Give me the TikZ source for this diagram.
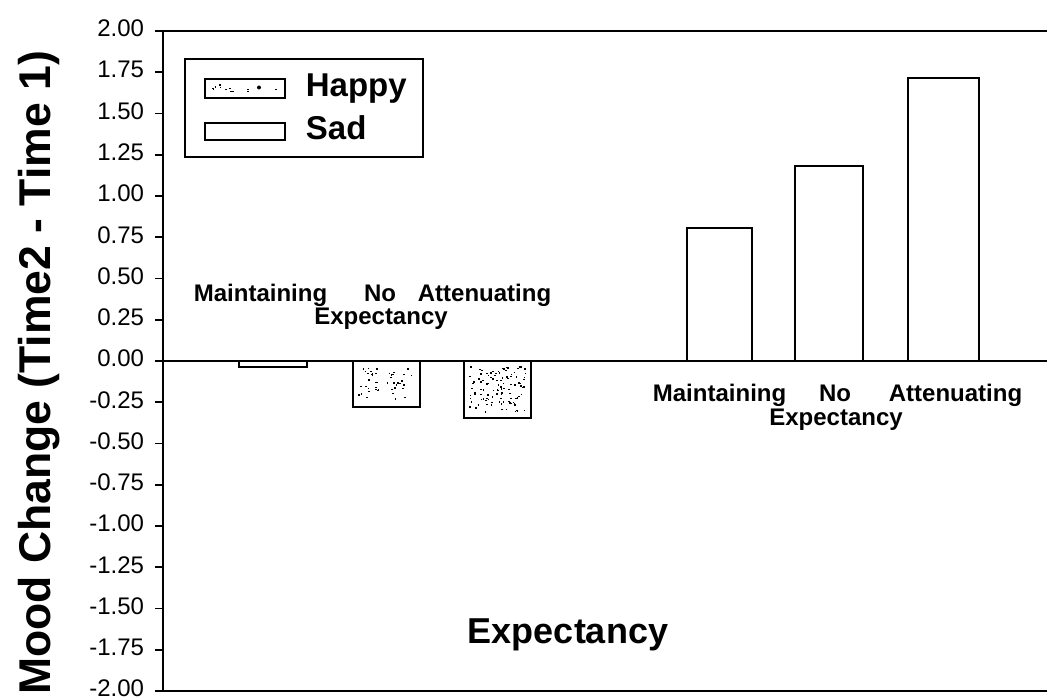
\documentclass[tikz,border=0pt]{standalone}
\usepackage{fontspec}
\setmainfont{Liberation Sans}
\begin{document}
\begin{tikzpicture}[x=1pt,y=-1pt,line width=1.8pt,
  ticklbl/.style={anchor=east,inner sep=0pt,font=\fontsize{24}{24}\selectfont},
  grplbl/.style={inner sep=0pt,font=\fontsize{24}{24}\selectfont\bfseries},
  leglbl/.style={anchor=base west,inner sep=0pt,font=\fontsize{33}{33}\selectfont\bfseries},
  barbox/.style={draw=black,fill=white,line width=1.8pt},
  speck/.style={fill=black}]
\useasboundingbox (0,0) rectangle (1047,700);
% frame lines
\draw (155,31) -- (1047,31);
\draw (163,31) -- (163,691);
\draw (155,691) -- (1047,691);
% ticks and labels
\foreach \v [count=\i from 0] in {2.00,1.75,1.50,1.25,1.00,0.75,0.50,0.25,0.00,-0.25,-0.50,-0.75,-1.00,-1.25,-1.50,-1.75,-2.00}{
  \draw (155,31+\i*41.25) -- (163,31+\i*41.25);
  \node[ticklbl] (t\i) at (145,28.5+\i*41.25) {\v};
}
% happy bars
\draw[barbox] (239,361) rectangle (307,367);
\draw[barbox] (353,361) rectangle (420,407);
\draw[barbox] (464,361) rectangle (531,418);
\pgfmathsetseed{11}
\foreach \k in {1,...,45}{
  \pgfmathsetmacro\px{358+rnd*56}\pgfmathsetmacro\py{366+rnd*34}
  \fill[speck] (\px,\py) rectangle ++(1.6,1.4);
}
\foreach \k in {1,...,110}{
  \pgfmathsetmacro\px{469+rnd*56}\pgfmathsetmacro\py{366+rnd*46}
  \fill[speck] (\px,\py) rectangle ++(1.6,1.4);
}
% sad bars
\draw[barbox] (687,361) rectangle (752,228);
\draw[barbox] (795,361) rectangle (863,166);
\draw[barbox] (908,361) rectangle (979,78);
% zero line
\draw (163,361) -- (1047,361);
% legend
\draw (185,59) rectangle (423,157);
\draw[line width=1.8pt] (205,79) rectangle (285,98);
\foreach \k in {1,...,12}{
  \pgfmathsetmacro\px{212+rnd*66}\pgfmathsetmacro\py{84+rnd*9}
  \fill[speck] (\px,\py) rectangle ++(1.6,1.4);
}
\fill[speck] (259,87.5) circle (2);
\draw[line width=1.8pt] (205,123) rectangle (285,140);
\node[leglbl] (lh) at (305,97) {Happy};
\node[leglbl] (ls) at (305,140) {Sad};
% group labels happy
\node[grplbl,anchor=base west] (hm) at (193,302) {Maintaining};
\node[grplbl,anchor=base] (hn) at (380,302) {No};
\node[grplbl,anchor=base west] (ha) at (417,302) {Attenuating};
\node[grplbl,anchor=base] (he) at (381,325) {Expectancy};
% group labels sad
\node[grplbl,anchor=base west] (sm) at (652,402) {Maintaining};
\node[grplbl,anchor=base] (sn) at (835,402) {No};
\node[grplbl,anchor=base west] (sa) at (888,402) {Attenuating};
\node[grplbl,anchor=base] (se) at (836,425) {Expectancy};
% axis titles
\node[anchor=base,inner sep=0pt,font=\fontsize{36}{36}\selectfont\bfseries] (xt) at (568,643) {Expectancy};
\node[anchor=base,rotate=90,inner sep=0pt,font=\fontsize{44.5}{44.5}\selectfont\bfseries] (yt) at (50,373) {Mood Change (Time2 - Time 1)};
\end{tikzpicture}
\end{document}
